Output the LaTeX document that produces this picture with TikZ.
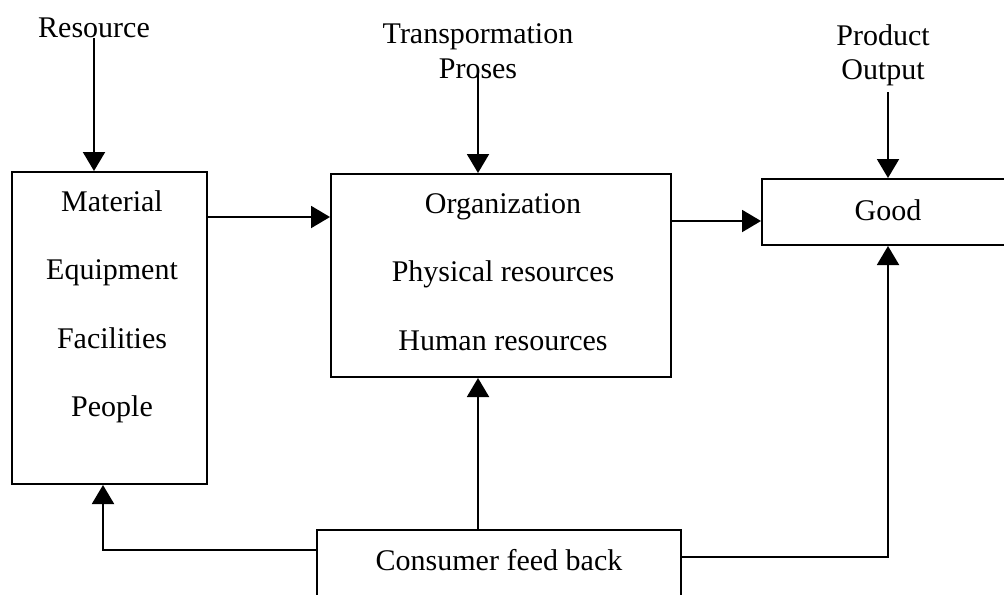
\documentclass[tikz,border=0pt]{standalone}
\usepackage{fontspec}
\setmainfont{Liberation Serif}
\usetikzlibrary{arrows.meta,math}

\begin{document}
\begin{tikzpicture}[x=0.4pt,y=-0.4pt,
    every node/.style={font=\fontsize{12pt}{13.8pt}\selectfont},
    blk/.style={draw,line width=0.8pt,inner sep=0pt},
    lbl/.style={align=center,inner sep=0pt},
    arr/.style={line width=0.8pt,-{Triangle[length=7.6pt,width=8.8pt]}}]
  \tikzmath{
    real \gap;
    \gap=68.5;
  }
  \useasboundingbox (0,0) rectangle (1004,594);

  \node[blk,minimum width=78pt,minimum height=124.8pt] (inp) at (109.5,328) {};
  \node[blk,minimum width=136pt,minimum height=81.2pt] (proc) at (501,275.5) {};
  \node[blk,minimum width=100.8pt,text height=16.4pt,text depth=10pt,anchor=base] (good) at (888,220) {Good};
  \node[blk,minimum width=145.6pt,text height=16pt,text depth=16pt,anchor=base] (fb) at (499,570) {Consumer feed back};

  \foreach \w [count=\i] in {Material,Equipment,Facilities,People}
    \node[anchor=base] (inp\i) at (112,{211+\gap*(\i-1)}) {\w};
  \foreach \w [count=\i] in {Organization,Physical resources,Human resources}
    \node[anchor=base] (proc\i) at (503,{213+\gap*(\i-1)}) {\w};

  \node[lbl] (res) at (94,28) {Resource};
  \node[lbl] (trans) at (478,51) {Transpormation\\Proses};
  \node[lbl] (prod) at (883,55.5) {Product\\Output};

  \draw[arr] (res.south) -- (res.south |- inp.north);
  \draw[arr,shorten <=-3.2pt] (trans.south) -- (trans.south |- proc.north);
  \draw[arr,shorten <=2.2pt] (prod.south -| good.north) -- (good.north);
  \path (inp.north east) ++(0,46) coordinate (inpout);
  \draw[arr] (inpout) -- (inpout -| proc.west);
  \path (proc.north east) ++(0,48) coordinate (procout);
  \draw[arr] (procout) -- (procout -| good.west);
  \draw[arr] (fb.north -| trans.south) -- (proc.south -| trans.south);
  \draw[arr] (fb.north west) ++(0,21) -| ([xshift=-2.6pt]inp.south);
  \draw[arr] (fb.north east) ++(0,28) -| (good.south);
\end{tikzpicture}
\end{document}
